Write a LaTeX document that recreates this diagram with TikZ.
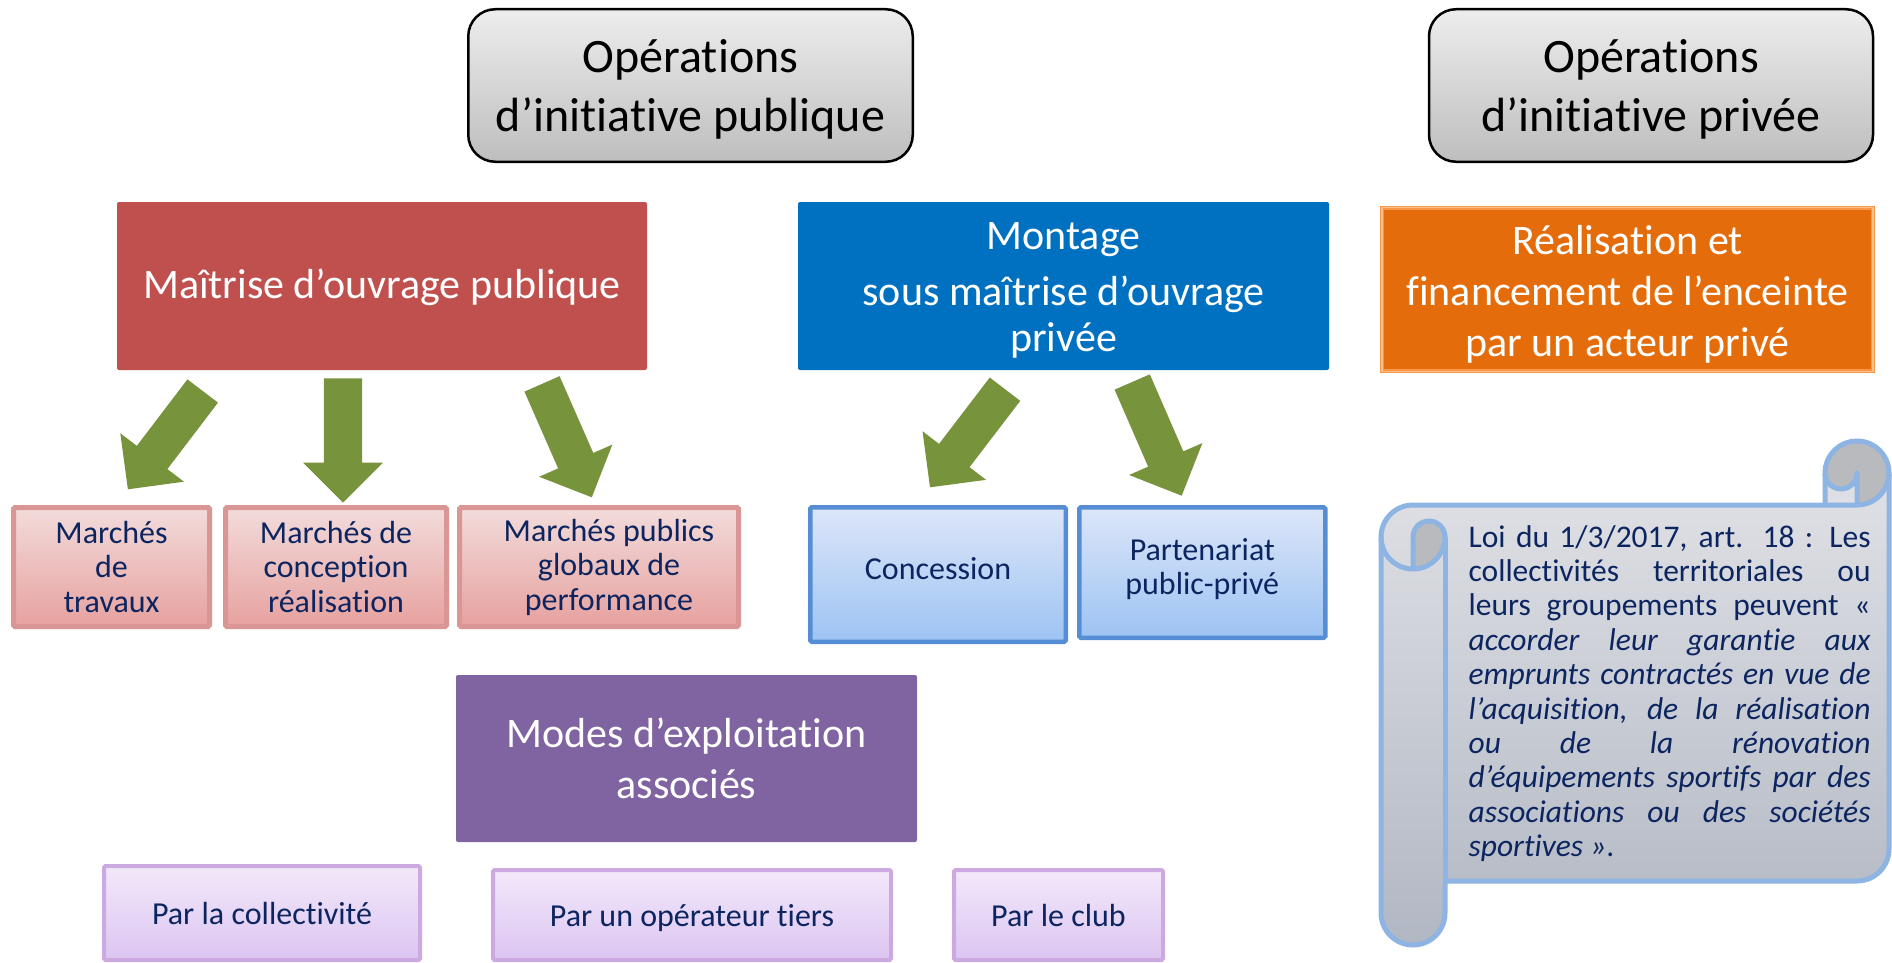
\documentclass[tikz,border=0pt]{standalone}
\usepackage{fontspec}
\setmainfont{Carlito}[Ligatures=NoCommon]
\usetikzlibrary{calc}
\definecolor{titletop}{HTML}{EDEDED}
\definecolor{titlebot}{HTML}{BEBEBE}
\definecolor{redbox}{HTML}{C0504D}
\definecolor{bluebox}{HTML}{0070C0}
\definecolor{orangebox}{HTML}{E46C0A}
\definecolor{orangeline}{HTML}{F79646}
\definecolor{orangeinner}{HTML}{FAC090}
\definecolor{purplebox}{HTML}{8064A2}
\definecolor{arrowgreen}{HTML}{77933C}
\definecolor{navy}{HTML}{0C2560}
\definecolor{pinktop}{HTML}{F2DCDB}
\definecolor{pinkbot}{HTML}{E6A19F}
\definecolor{pinkline}{HTML}{D99694}
\definecolor{lbtop}{HTML}{DCE6F8}
\definecolor{lbbot}{HTML}{9DC3F3}
\definecolor{lbline}{HTML}{558ED5}
\definecolor{lptop}{HTML}{F2E8FA}
\definecolor{lpbot}{HTML}{DCC5F2}
\definecolor{lpline}{HTML}{CDA9E2}
\definecolor{scrolltop}{HTML}{E3E4E8}
\definecolor{scrollbot}{HTML}{B1B7C3}
\definecolor{scrollcurl}{HTML}{B9BABD}
\definecolor{scrollline}{HTML}{8DB4E2}

\newcommand{\tstr}[1]{\rule{0pt}{#1}}
\newcommand{\bstr}[1]{\rule[-#1]{0pt}{#1}}

\newcommand{\blockarrow}[2]{%
  \coordinate (#1h) at ($(#2)!40pt!(#1)$);
  \fill[arrowgreen] ($(#1)!19.2pt!90:(#2)$) -- ($(#1h)!19.2pt!90:(#2)$)
    -- ($(#1h)!40pt!90:(#2)$) -- (#2) -- ($(#1h)!40pt!-90:(#2)$)
    -- ($(#1h)!19.2pt!-90:(#2)$) -- ($(#1)!19.2pt!-90:(#2)$) -- cycle;}

\tikzset{
  titlebox/.style={draw=black, line width=2.5pt, rounded corners=27pt,
    top color=titletop, bottom color=titlebot, align=center, text=black,
    inner sep=0pt, font=\fontsize{48pt}{58.6pt}\selectfont},
  bigbox/.style={rounded corners=2pt, align=center, text=white, inner sep=0pt,
    font=\fontsize{42pt}{51pt}\selectfont},
  pinkbox/.style={draw=pinkline, line width=5pt, rounded corners=1.5pt,
    top color=pinktop, bottom color=pinkbot, align=center, text=navy,
    inner sep=0pt, font=\fontsize{32pt}{34.5pt}\selectfont},
  lbluebox/.style={pinkbox, draw=lbline, line width=4.5pt,
    top color=lbtop, bottom color=lbbot},
  lpurplebox/.style={pinkbox, draw=lpline, line width=4pt,
    top color=lptop, bottom color=lpbot},
}

\begin{document}
\begin{tikzpicture}[x=1pt, y=1pt, yscale=-1]
\useasboundingbox (0,0) rectangle (1892,963);

% titles
\node[titlebox, minimum width=444.5pt, minimum height=152.5pt] (pub) at (690.5,85.5)
  {\tstr{48.2pt}Opérations\\d’initiative publique\bstr{15pt}};
\node[titlebox, minimum width=444pt, minimum height=152.5pt] (priv) at (1651,85.5)
  {\tstr{48.2pt}Opérations\\d’initiative privée\bstr{15pt}};

% main boxes
\node[bigbox, fill=redbox, minimum width=530pt, minimum height=168pt] (mop) at (382,286)
  {\tstr{40.8pt}Maîtrise d’ouvrage publique\bstr{15pt}};
\node[bigbox, fill=bluebox, minimum width=531pt, minimum height=168pt,
  font=\fontsize{42pt}{46pt}\selectfont] (montage) at (1063.5,286)
  {\tstr{44.2pt}Montage\\[9.5pt]sous maîtrise d’ouvrage\\privée\bstr{15pt}};
\node[bigbox, rounded corners=0pt, fill=orangebox, draw=orangeline, line width=1.6pt,
  double=orangeinner, double distance=1.2pt,
  minimum width=491pt, minimum height=163pt] (real) at (1627.5,289.5)
  {\tstr{46.4pt}Réalisation et\\financement de l’enceinte\\par un acteur privé\bstr{15pt}};
\node[bigbox, fill=purplebox, minimum width=461pt, minimum height=167pt] (modes) at (686.5,758.5)
  {Modes d’exploitation\\associés};

% small boxes
\node[pinkbox, minimum width=196pt, minimum height=119pt] (trav) at (111.5,567)
  {Marchés\\de\\travaux};
\node[pinkbox, minimum width=221pt, minimum height=119pt] (concep) at (336,567)
  {Marchés de\\conception\\réalisation};
\node[pinkbox, minimum width=279pt, minimum height=119pt] (perf) at (599,567)
  {\hspace*{20pt}Marchés publics\\\hspace*{20pt}globaux de\\\hspace*{20pt}performance};
\node[lbluebox, minimum width=255.5pt, minimum height=134.5pt, text depth=13pt] (conc) at (938,574.5)
  {Concession};
\node[lbluebox, minimum width=246pt, minimum height=130.5pt, text depth=12.4pt] (ppp) at (1202.25,572.5)
  {Partenariat\\public-privé};
\node[lpurplebox, minimum width=316pt, minimum height=94pt] (coll) at (262,913)
  {Par la collectivité};
\node[lpurplebox, minimum width=398pt, minimum height=90pt, text depth=0pt] (tiers) at (692,915)
  {Par un opérateur tiers};
\node[lpurplebox, minimum width=209pt, minimum height=90pt] (club) at (1058.5,915)
  {Par le club};

% arrows
\coordinate (a1s) at (202.7,391);   \coordinate (a1e) at (127.9,489.3);
\coordinate (a2s) at (343,378.3);   \coordinate (a2e) at (343,502.7);
\coordinate (a3s) at (542,383.9);   \coordinate (a3e) at (591.8,497.3);
\coordinate (a4s) at (1005,389.2);  \coordinate (a4e) at (930,487.3);
\coordinate (a5s) at (1132.2,382);  \coordinate (a5e) at (1181.7,495.7);
\blockarrow{a1s}{a1e}
\blockarrow{a2s}{a2e}
\blockarrow{a3s}{a3e}
\blockarrow{a4s}{a4e}
\blockarrow{a5s}{a5e}

% scroll
\fill[top color=scrolltop, bottom color=scrollbot]
  (1381,537) arc[start angle=180, end angle=270, radius=32]
  -- (1825,505) -- (1825,473)
  arc[start angle=180, end angle=360, radius=32]
  -- (1889,849)
  arc[start angle=0, end angle=90, radius=32]
  -- (1445,881) -- (1445,913)
  arc[start angle=0, end angle=180, radius=32]
  -- cycle;
\fill[scrollcurl] (1413,569) arc[start angle=90, end angle=0, radius=32]
  arc[start angle=0, end angle=-180, radius=16] -- cycle;
\fill[scrollcurl] (1857,505) arc[start angle=90, end angle=-180, radius=32]
  arc[start angle=180, end angle=0, radius=16] -- cycle;
\begin{scope}[draw=scrollline, line width=5pt, line join=round]
\draw (1381,537) arc[start angle=180, end angle=270, radius=32]
  -- (1825,505) -- (1825,473)
  arc[start angle=180, end angle=360, radius=32]
  -- (1889,849)
  arc[start angle=0, end angle=90, radius=32]
  -- (1445,881) -- (1445,913)
  arc[start angle=0, end angle=180, radius=32]
  -- cycle;
\draw (1825,505) -- (1857,505) arc[start angle=90, end angle=0, radius=32];
\draw (1857,505) -- (1857,473) arc[start angle=0, end angle=180, radius=16];
\draw (1413,569) -- (1413,537) arc[start angle=180, end angle=360, radius=16]
  arc[start angle=0, end angle=180, radius=32];
\draw (1445,537) -- (1445,881);
\end{scope}
\node[align=left, text=navy, inner sep=0pt, font=\fontsize{31.5pt}{34.4pt}\selectfont] (loi) at (1669.6,693.4)
  {\makebox[402pt][s]{Loi du 1/3/2017, art. 18 : Les}\\
   \makebox[402pt][s]{collectivités territoriales ou}\\
   \makebox[402pt][s]{leurs groupements peuvent «}\\
   \makebox[402pt][s]{\itshape accorder leur garantie aux}\\
   \makebox[402pt][s]{\itshape emprunts contractés en vue de}\\
   \makebox[402pt][s]{\itshape l’acquisition, de la réalisation}\\
   \makebox[402pt][s]{\itshape ou de la rénovation}\\
   \makebox[402pt][s]{\itshape d’équipements sportifs par des}\\
   \makebox[402pt][s]{\itshape associations ou des sociétés}\\
   {\itshape sportives »}.\hspace*{250pt}};
\end{tikzpicture}
\end{document}
